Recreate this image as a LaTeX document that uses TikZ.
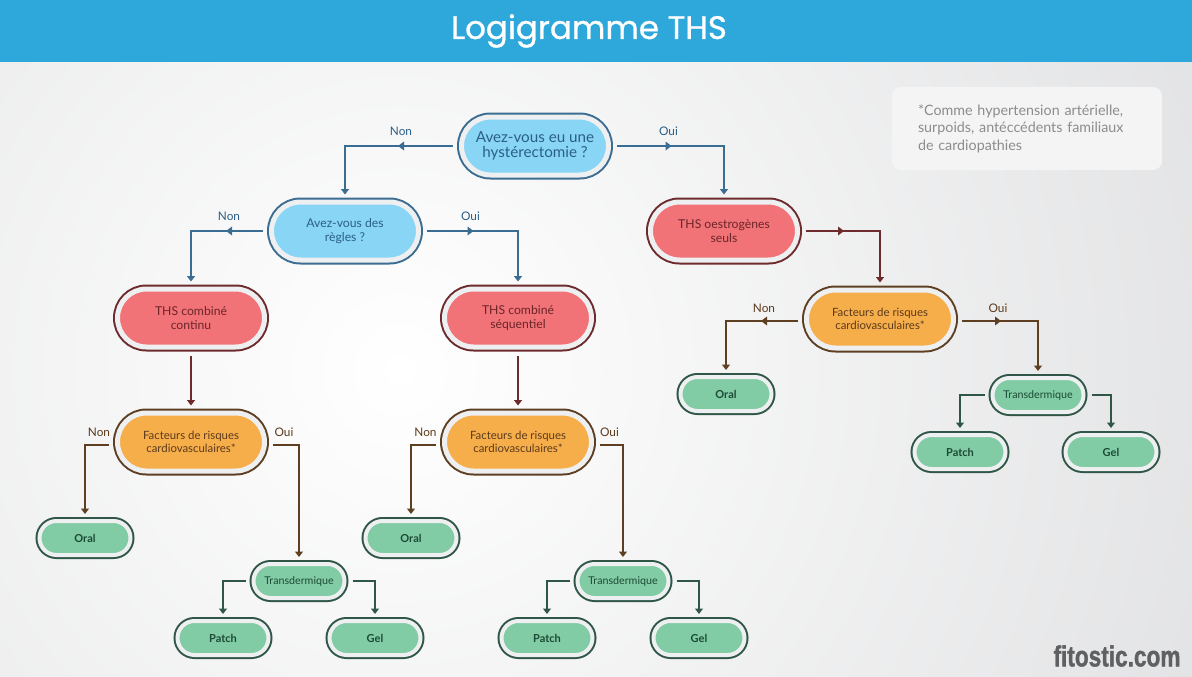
\documentclass[tikz,border=0pt]{standalone}
\usepackage{fontspec}
\setmainfont{Lato}
\newfontfamily\titlefont[FakeBold=0.8]{Poppins}
\newfontfamily\wmfont[FakeBold=1.5]{Liberation Sans}
\usetikzlibrary{shapes.misc,arrows.meta}
\definecolor{titlebg}{HTML}{2EA8DB}
\definecolor{bgout}{HTML}{D4D5D7}
\definecolor{ring}{HTML}{EEEFF0}
\definecolor{bfill}{HTML}{88D5F5}
\definecolor{bline}{HTML}{3B6C91}
\definecolor{btext}{HTML}{2B5F87}
\definecolor{rfill}{HTML}{F17377}
\definecolor{rline}{HTML}{6E2B2D}
\definecolor{rtext}{HTML}{6B2529}
\definecolor{ofill}{HTML}{F6AE4B}
\definecolor{oline}{HTML}{5E3F22}
\definecolor{otext}{HTML}{5C3A1C}
\definecolor{gfill}{HTML}{81CCA4}
\definecolor{gline}{HTML}{2F5646}
\definecolor{gtext}{HTML}{1C4A36}
\definecolor{notetext}{HTML}{8C8C8C}
\definecolor{notefill}{HTML}{F4F4F5}
\definecolor{wmark}{HTML}{5F6061}
\def\capbw{9pt}
\tikzset{
  cap/.style n args={3}{rounded rectangle, fill=#1, draw=ring, text=#3, inner sep=0pt, align=center,
     preaction={draw=#2, line width=\capbw}},
  big/.style={line width=5pt, minimum width=147pt, minimum height=58pt, outer sep=4.5pt, /utils/exec={\def\capbw{9pt}}},
  sm/.style={line width=4pt, minimum width=91pt, minimum height=34pt, outer sep=4pt, /utils/exec={\def\capbw{8pt}}},
  bq/.style={big, cap={bfill}{bline}{btext}},
  rq/.style={big, cap={rfill}{rline}{rtext}, font=\fontsize{12.2}{13.5}\selectfont},
  oq/.style={big, cap={ofill}{oline}{otext}, font=\fontsize{11.4}{12.5}\selectfont},
  gq/.style={sm, cap={gfill}{gline}{gtext}, font=\bfseries\fontsize{11}{12}\selectfont},
  tq/.style={sm, cap={gfill}{gline}{gtext}, font=\fontsize{10.7}{12}\selectfont},
  conn/.style={line width=1.4pt, shorten <=4pt, shorten >=3pt, -{Triangle[width=8pt,length=5.5pt]}},
  cb/.style={conn, draw=bline},
  cr/.style={conn, draw=rline},
  co/.style={conn, draw=oline},
  cg/.style={conn, draw=gline},
  lab/.style={inner sep=0pt, font=\fontsize{11.8}{12}\selectfont},
  blab/.style={lab, text=btext},
  olab/.style={lab, text=otext},
  tri/.pic={\fill[arrows=-] (3pt,0pt) -- (-3pt,4.5pt) -- (-3pt,-4.5pt) -- cycle;},
}
\begin{document}
\begin{tikzpicture}[x=1pt,y=-1pt]
\useasboundingbox (0,0) rectangle (1192,677);
% background
\begin{scope}
\clip (0,0) rectangle (1192,677);
\fill[bgout] (0,0) rectangle (1192,677);
\shade[inner color=white, outer color=bgout] (400,370) circle (1300pt);
\end{scope}
\fill[titlebg] (0,0) rectangle (1192,62);
\node[font=\titlefont\fontsize{32.5}{36}\selectfont, text=white] (title) at (589,31) {Logigramme THS};

% note
\node[fill=notefill, rounded corners=9pt, minimum width=270pt, minimum height=83pt, text width=218pt, inner xsep=26pt,
      align=left, text=notetext, font=\fontsize{14.3}{17.5}\selectfont] (note) at (1027,128.5)
  {*Comme hypertension artérielle,\\surpoids, antéccédents familiaux\\de cardiopathies};

% nodes
\node[bq, font=\fontsize{15.2}{15.5}\selectfont] (q1) at (535,146) {Avez-vous eu une\\hystérectomie ?};
\node[bq, font=\fontsize{12.2}{13.5}\selectfont] (q2) at (345,231) {Avez-vous des\\règles ?};
\node[rq] (r3) at (724,231) {THS oestrogènes\\seuls};
\node[rq] (r4) at (191,318) {THS combiné\\continu};
\node[rq] (r5) at (518,318) {THS combiné\\séquentiel};
\node[oq] (f6) at (191,442) {Facteurs de risques\\cardiovasculaires*};
\node[oq] (f7) at (518,442) {Facteurs de risques\\cardiovasculaires*};
\node[oq] (f8) at (880,319) {Facteurs de risques\\cardiovasculaires*};
\node[gq] (o9) at (85,538) {Oral};
\node[gq] (o10) at (411,538) {Oral};
\node[gq] (o11) at (726,394) {Oral};
\node[tq] (t12) at (299,581) {Transdermique};
\node[tq] (t13) at (623,581) {Transdermique};
\node[tq] (t14) at (1038,395) {Transdermique};
\node[gq] (p15) at (223,638) {Patch};
\node[gq] (g16) at (375,638) {Gel};
\node[gq] (p17) at (547,638) {Patch};
\node[gq] (g18) at (699,638) {Gel};
\node[gq] (p19) at (960,452) {Patch};
\node[gq] (g20) at (1111,452) {Gel};

% connectors: blue
\draw[cb] (q1.west) -| coordinate[pos=.25] (m1) node[pos=.25, above=9.5pt, blab]{Non} (q2.north);
\pic[rotate=180, color=bline] at (m1) {tri};
\draw[cb] (q1.east) -| coordinate[pos=.25] (m2) node[pos=.25, above=9.5pt, blab]{Oui} (r3.north);
\pic[color=bline] at (m2) {tri};
\draw[cb] (q2.west) -| coordinate[pos=.25] (m3) node[pos=.25, above=9.5pt, blab]{Non} (r4.north);
\pic[rotate=180, color=bline] at (m3) {tri};
\draw[cb] (q2.east) -| coordinate[pos=.25] (m4) node[pos=.25, above=9.5pt, blab]{Oui} (r5.north);
\pic[color=bline] at (m4) {tri};

% red
\draw[cr] (r3.east) -| coordinate[pos=.25] (m5) (f8.north);
\pic[color=rline] at (m5) {tri};
\draw[cr] (r4.south) -- (f6.north);
\draw[cr] (r5.south) -- (f7.north);

% brown
\draw[co] ([yshift=-3pt]f6.west) -| node[pos=.25, above=7.5pt, olab]{Non} (o9.north);
\draw[co] ([yshift=-3pt]f6.east) -| node[pos=.25, above=7.5pt, olab]{Oui} (t12.north);
\draw[co] ([yshift=-3pt]f7.west) -| node[pos=.25, above=7.5pt, olab]{Non} (o10.north);
\draw[co] ([yshift=-3pt]f7.east) -| node[pos=.25, above=7.5pt, olab]{Oui} (t13.north);
\draw[co] ([yshift=-2pt]f8.west) -| coordinate[pos=.25] (m6) node[pos=.25, above=8pt, olab]{Non} (o11.north);
\pic[rotate=180, color=oline] at (m6) {tri};
\draw[co] ([yshift=-2pt]f8.east) -| coordinate[pos=.25] (m7) node[pos=.25, above=8pt, olab]{Oui} (t14.north);
\pic[color=oline] at (m7) {tri};

% green
\draw[cg] (t12.west) -| (p15.north);
\draw[cg] (t12.east) -| (g16.north);
\draw[cg] (t13.west) -| (p17.north);
\draw[cg] (t13.east) -| (g18.north);
\draw[cg] (t14.west) -| (p19.north);
\draw[cg] (t14.east) -| (g20.north);

% watermark
\node[font=\wmfont\bfseries\fontsize{29}{30}\selectfont, text=wmark, xscale=0.78] (wm) at (1117,656) {fitostic.com};
\end{tikzpicture}
\end{document}
